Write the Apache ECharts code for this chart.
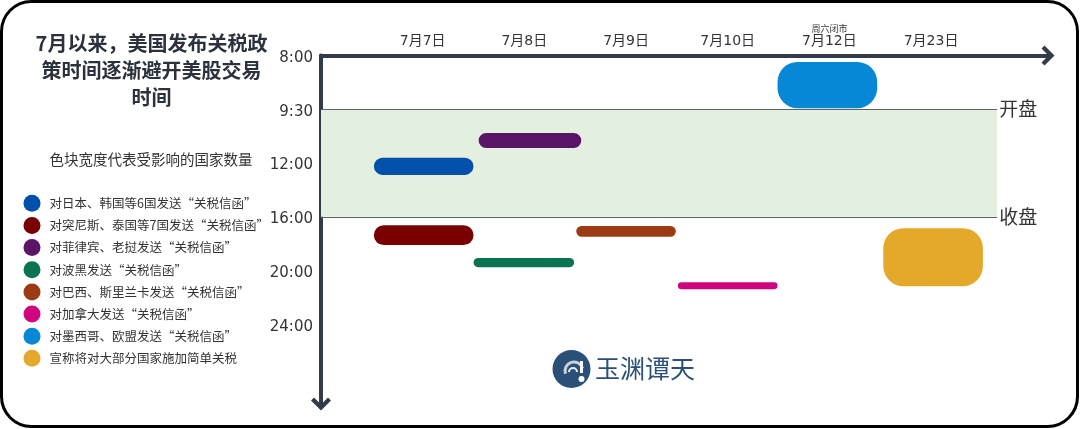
<!DOCTYPE html>
<html><head><meta charset="utf-8">
<script src="https://cdn.jsdelivr.net/npm/echarts@6/dist/echarts.min.js"></script>
<style>html,body{margin:0;padding:0;background:#fff}#c{width:1080px;height:429px}</style>
</head><body><div id="c"></div>
<script>
// ---- data ----
const titleText = '7月以来，美国发布关税政\n策时间逐渐避开美股交易\n时间';
const subtitleText = '色块宽度代表受影响的国家数量';
const categories = ['7月7日', '7月8日', '7月9日', '7月10日', '7月12日', '7月23日'];
const categoryNotes = ['', '', '', '', '周六闭市', ''];
const timeLabels = ['8:00', '9:30', '12:00', '16:00', '20:00', '24:00'];
const seriesNames = [
  '对日本、韩国等6国发送“关税信函”',
  '对突尼斯、泰国等7国发送“关税信函”',
  '对菲律宾、老挝发送“关税信函”',
  '对波黑发送“关税信函”',
  '对巴西、斯里兰卡发送“关税信函”',
  '对加拿大发送“关税信函”',
  '对墨西哥、欧盟发送“关税信函”',
  '宣称将对大部分国家施加简单关税'
];
const seriesColors = ['#0050AC', '#7A0000', '#5A1468', '#0B7352', '#9C3A14', '#CF0580', '#0788D6', '#E4A82B'];
// horizontal extent in category units (category i spans about i-0.5 .. i+0.5)
const xStart = [-0.48, -0.48, 0.55, 0.50, 1.51, 2.51, 3.49, 4.53];
const xEnd   = [ 0.50,  0.50, 1.56, 1.49, 2.49, 3.49, 4.47, 5.51];
// vertical centre in time-slot units (0 = 8:00 … 5 = 24:00) and block thickness
const yCenter   = [2.06, 3.34, 1.58, 3.85, 3.27, 4.28, 0.55, 3.75];
const thickness = [0.32, 0.37, 0.28, 0.17, 0.20, 0.13, 0.86, 1.08];
const openSlot = 1, closeSlot = 3, bandEnd = 5.65;
const openLabel = '开盘', closeLabel = '收盘';
const brandText = '玉渊谭天';

// ---- chart ----
const CJK = '"Noto Sans CJK SC"';
const LAT = '"DejaVu Sans", "Noto Sans CJK SC"';
const chart = echarts.init(document.getElementById('c'), null, {renderer: 'canvas'});
const axisColor = '#333b49';
const chevron = 'path://M10,0 L20,10 L17,13 L10,6 L3,13 L0,10 Z';

function renderBlock(params, api) {
  const x0 = api.value(0), x1 = api.value(1), yc = api.value(2), h = api.value(3);
  const p0 = api.coord([x0, yc - h / 2]);
  const p1 = api.coord([x1, yc + h / 2]);
  const y = Math.min(p0[1], p1[1]);
  const hh = Math.abs(p1[1] - p0[1]);
  return {
    type: 'rect',
    shape: {x: p0[0], y: y, width: p1[0] - p0[0], height: hh, r: Math.min(hh / 2, 20)},
    style: {fill: api.visual('color')}
  };
}

const blockSeries = seriesNames.map((name, i) => ({
  name: name,
  type: 'custom',
  z: 5,
  renderItem: renderBlock,
  itemStyle: {color: seriesColors[i]},
  data: [[xStart[i], xEnd[i], yCenter[i], thickness[i]]]
}));

const bandSeries = {
  name: 'band',
  type: 'line',
  z: 1,
  data: [],
  silent: true,
  markArea: {
    silent: true,
    itemStyle: {color: '#E3EFDF'},
    data: [[{coord: [-1, openSlot]}, {coord: [bandEnd, closeSlot]}]]
  },
  markLine: {
    silent: true,
    symbol: ['none', 'none'],
    lineStyle: {color: '#5d6268', width: 1, type: 'solid'},
    label: {position: 'end', distance: 2, fontSize: 19, color: '#333', fontFamily: CJK},
    data: [
      [{coord: [-1, openSlot], label: {formatter: openLabel}}, {coord: [bandEnd, openSlot]}],
      [{coord: [-1, closeSlot], label: {formatter: closeLabel}}, {coord: [bandEnd, closeSlot]}]
    ]
  }
};

const option = {
  backgroundColor: '#fff',
  animation: false,
  color: seriesColors,
  grid: {left: 321, top: 55.5, width: 727, height: 348.5, containLabel: false},
  xAxis: {
    type: 'value', position: 'top', min: -1, max: 6.15, interval: 1,
    axisLine: {show: true, onZero: false, symbol: ['none', chevron], symbolSize: [20, 13],
      lineStyle: {color: axisColor, width: 4}},
    axisTick: {show: false},
    splitLine: {show: false},
    axisLabel: {
      margin: 6, fontSize: 14, color: '#333', lineHeight: 16,
      fontFamily: LAT,
      formatter: function (v) {
        const i = Math.round(v);
        if (Math.abs(v - i) > 1e-6 || i < 0 || i >= categories.length) return '';
        return categoryNotes[i] ? '{s|' + categoryNotes[i] + '}\n{m|' + categories[i] + '}' : categories[i];
      },
      rich: {
        s: {fontSize: 9, lineHeight: 10, color: '#333', fontFamily: CJK},
        m: {fontSize: 14, lineHeight: 16, color: '#333', fontFamily: LAT}
      }
    }
  },
  yAxis: {
    type: 'value', inverse: true, min: 0, max: 6.48, interval: 1,
    axisLine: {show: true, onZero: false, symbol: [chevron, 'none'], symbolSize: [20, 13],
      lineStyle: {color: axisColor, width: 4}},
    axisTick: {show: false},
    splitLine: {show: false},
    axisLabel: {
      margin: 8, fontSize: 15, color: '#333', fontFamily: '"DejaVu Sans"',
      verticalAlign: 'top', lineHeight: 18, padding: [-6.5, 0, 0, 0],
      formatter: function (v) {
        const i = Math.round(v);
        if (Math.abs(v - i) > 1e-6 || i < 0 || i >= timeLabels.length) return '';
        return timeLabels[i];
      }
    }
  },
  legend: {
    data: seriesNames,
    orient: 'vertical', left: 23.5, top: 194.8, padding: 0,
    itemWidth: 17, itemHeight: 17, itemGap: 5.15, icon: 'circle',
    selectedMode: false,
    textStyle: {fontSize: 12.5, color: '#333', fontFamily: CJK, padding: [0, 0, 0, 4]}
  },
  graphic: [
    {type: 'rect', z: 100, silent: true,
      shape: {x: 1.5, y: 1.5, width: 1076, height: 425, r: 30},
      style: {fill: 'none', stroke: '#000', lineWidth: 3}},
    {type: 'text', x: 151.5, y: 29.5, silent: true,
      style: {text: titleText, align: 'center', verticalAlign: 'top', fontSize: 20, fontWeight: 'bold',
        lineHeight: 27, fill: '#2b323d', fontFamily: CJK}},
    {type: 'text', x: 151, y: 159, silent: true,
      style: {text: subtitleText, align: 'center', verticalAlign: 'middle', fontSize: 14.5,
        fill: '#333', fontFamily: CJK}},
    {type: 'group', silent: true, children: [
      {type: 'circle', shape: {cx: 571.5, cy: 369, r: 19}, style: {fill: '#2a5078'}},
      {type: 'arc', shape: {cx: 574, cy: 371, r: 9, startAngle: Math.PI * 0.9, endAngle: Math.PI * 1.9},
        style: {stroke: '#c9d3de', lineWidth: 3, fill: 'none'}},
      {type: 'arc', shape: {cx: 573, cy: 372, r: 4, startAngle: Math.PI, endAngle: Math.PI * 2},
        style: {stroke: '#e8edf2', lineWidth: 2, fill: 'none'}},
      {type: 'rect', shape: {x: 580, y: 361, width: 3, height: 12}, style: {fill: '#ffffff'}},
      {type: 'circle', shape: {cx: 581.5, cy: 379, r: 3}, style: {fill: '#ffffff'}},
      {type: 'text', x: 595, y: 368,
        style: {text: brandText, align: 'left', verticalAlign: 'middle', fontSize: 25,
          fill: '#2a5078', fontFamily: CJK}}
    ]}
  ],
  series: [bandSeries].concat(blockSeries)
};
chart.setOption(option);
</script>
</body></html>
